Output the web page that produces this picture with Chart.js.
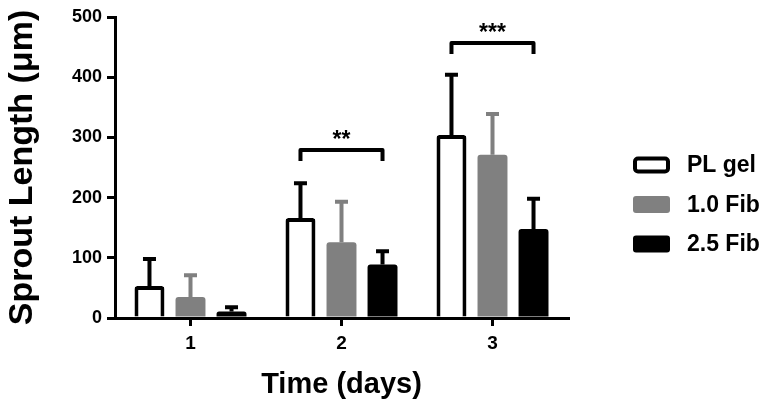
<!DOCTYPE html>
<html>
<head>
<meta charset="utf-8">
<script src="https://cdn.jsdelivr.net/npm/chart.js@4/dist/chart.umd.min.js"></script>
<style>
  html, body { margin: 0; padding: 0; background: #fff; }
  #wrap { width: 772px; height: 410px; position: relative; }
</style>
</head>
<body>
<div id="wrap"><canvas id="chart"></canvas></div>
<script>
// Values (µm), upper error bars only
const days = ["1", "2", "3"];
const seriesNames = ["PL gel", "1.0 Fib", "2.5 Fib"];
const plGel = [53, 166, 304];
const plGelErr = [45, 58, 100];
const fib10 = [35, 126, 271];
const fib10Err = [36, 67, 68];
const fib25 = [11, 89, 148];
const fib25Err = [7, 22, 50];
const yTicks = [0, 100, 200, 300, 400, 500];

// significance brackets: PL gel vs 2.5 Fib per day
const sigHeight = [null, 279, 457];
const sigLabel = ["", "**", "***"];

const FONT = "'Liberation Sans', Arial, sans-serif";
Chart.defaults.color = "#000";
Chart.defaults.font.family = FONT;

const errs = [plGelErr, fib10Err, fib25Err];
const errColors = ["#000", "#808080", "#000"];

const errorBars = {
  id: "errorBars",
  afterDatasetsDraw(chart) {
    const { ctx, scales: { y } } = chart;
    ctx.save();
    ctx.lineWidth = 4;
    ctx.lineCap = "butt";
    chart.data.datasets.forEach((ds, i) => {
      const meta = chart.getDatasetMeta(i);
      ctx.strokeStyle = errColors[i];
      meta.data.forEach((bar, j) => {
        const top = y.getPixelForValue(ds.data[j] + errs[i][j]);
        ctx.beginPath();
        ctx.moveTo(bar.x, bar.y);
        ctx.lineTo(bar.x, top);
        ctx.moveTo(bar.x - 6.5, top);
        ctx.lineTo(bar.x + 6.5, top);
        ctx.stroke();
      });
    });
    ctx.restore();
  },
};

const brackets = {
  id: "brackets",
  afterDraw(chart) {
    const { ctx, scales: { y } } = chart;
    const first = chart.getDatasetMeta(0), last = chart.getDatasetMeta(2);
    ctx.save();
    ctx.lineWidth = 4;
    ctx.lineJoin = "round";
    ctx.strokeStyle = "#000";
    ctx.fillStyle = "#000";
    ctx.font = "bold 23px " + FONT;
    ctx.textAlign = "center";
    ctx.textBaseline = "alphabetic";
    sigHeight.forEach((h, j) => {
      if (h === null) return;
      const x0 = first.data[j].x, x1 = last.data[j].x;
      const py = y.getPixelForValue(h);
      ctx.beginPath();
      ctx.moveTo(x0, py + 11);
      ctx.lineTo(x0, py);
      ctx.lineTo(x1, py);
      ctx.lineTo(x1, py + 11);
      ctx.stroke();
      ctx.fillText(sigLabel[j], (x0 + x1) / 2, py - 3);
    });
    ctx.restore();
  },
};

// legend on the right, drawn from the dataset labels/colours
const sideLegend = {
  id: "sideLegend",
  afterDraw(chart) {
    const { ctx } = chart;
    ctx.save();
    ctx.font = "bold 23px " + FONT;
    ctx.textBaseline = "middle";
    ctx.textAlign = "left";
    chart.data.datasets.forEach((ds, i) => {
      const cy = 165 + i * 39.5;
      const bw = ds.borderWidth || 0;
      ctx.beginPath();
      ctx.roundRect(633 + bw / 2, cy - 8.5 + bw / 2, 37 - bw, 17 - bw, 3);
      ctx.fillStyle = ds.backgroundColor;
      ctx.fill();
      if (bw) {
        ctx.lineWidth = bw;
        ctx.strokeStyle = ds.borderColor;
        ctx.stroke();
      }
      ctx.fillStyle = "#000";
      ctx.fillText(ds.label, 687, cy + 1);
    });
    ctx.restore();
  },
};

new Chart(document.getElementById("chart"), {
  type: "bar",
  data: {
    labels: days,
    datasets: [
      { label: seriesNames[0], data: plGel, backgroundColor: "#fff", borderColor: "#000", borderWidth: 4 },
      { label: seriesNames[1], data: fib10, backgroundColor: "#808080", borderWidth: 0 },
      { label: seriesNames[2], data: fib25, backgroundColor: "#000", borderWidth: 0 },
    ],
  },
  options: {
    responsive: true,
    maintainAspectRatio: false,
    animation: false,
    layout: { padding: { top: 17, right: 204, bottom: 0, left: 0 } },
    datasets: { bar: { categoryPercentage: 0.815, barPercentage: 0.73, borderRadius: 3, borderSkipped: "start" } },
    plugins: { legend: { display: false }, tooltip: { enabled: false } },
    scales: {
      x: {
        afterFit: (s) => { s.height = 92; },
        grid: { offset: false, drawOnChartArea: false, color: "#000", lineWidth: 3, tickLength: 8 },
        border: { display: true, color: "#000", width: 3 },
        ticks: { font: { size: 19, weight: "bold" }, padding: 6 },
        title: { display: true, text: "Time (days)", font: { size: 29, weight: "bold" }, padding: { top: 4, bottom: 8 } },
      },
      y: {
        min: 0,
        max: 500,
        afterFit: (s) => { s.width = 115; },
        afterBuildTicks: (s) => { s.ticks = yTicks.map(v => ({ value: v })); },
        grid: { drawOnChartArea: false, color: "#000", lineWidth: 3, tickLength: 8 },
        border: { display: true, color: "#000", width: 3 },
        ticks: { font: { size: 18, weight: "bold" }, padding: 5 },
        title: { display: true, text: "Sprout Length (μm)", font: { size: 34, weight: "bold" }, padding: { top: 2, bottom: 4 } },
      },
    },
  },
  plugins: [errorBars, brackets, sideLegend],
});
</script>
</body>
</html>
